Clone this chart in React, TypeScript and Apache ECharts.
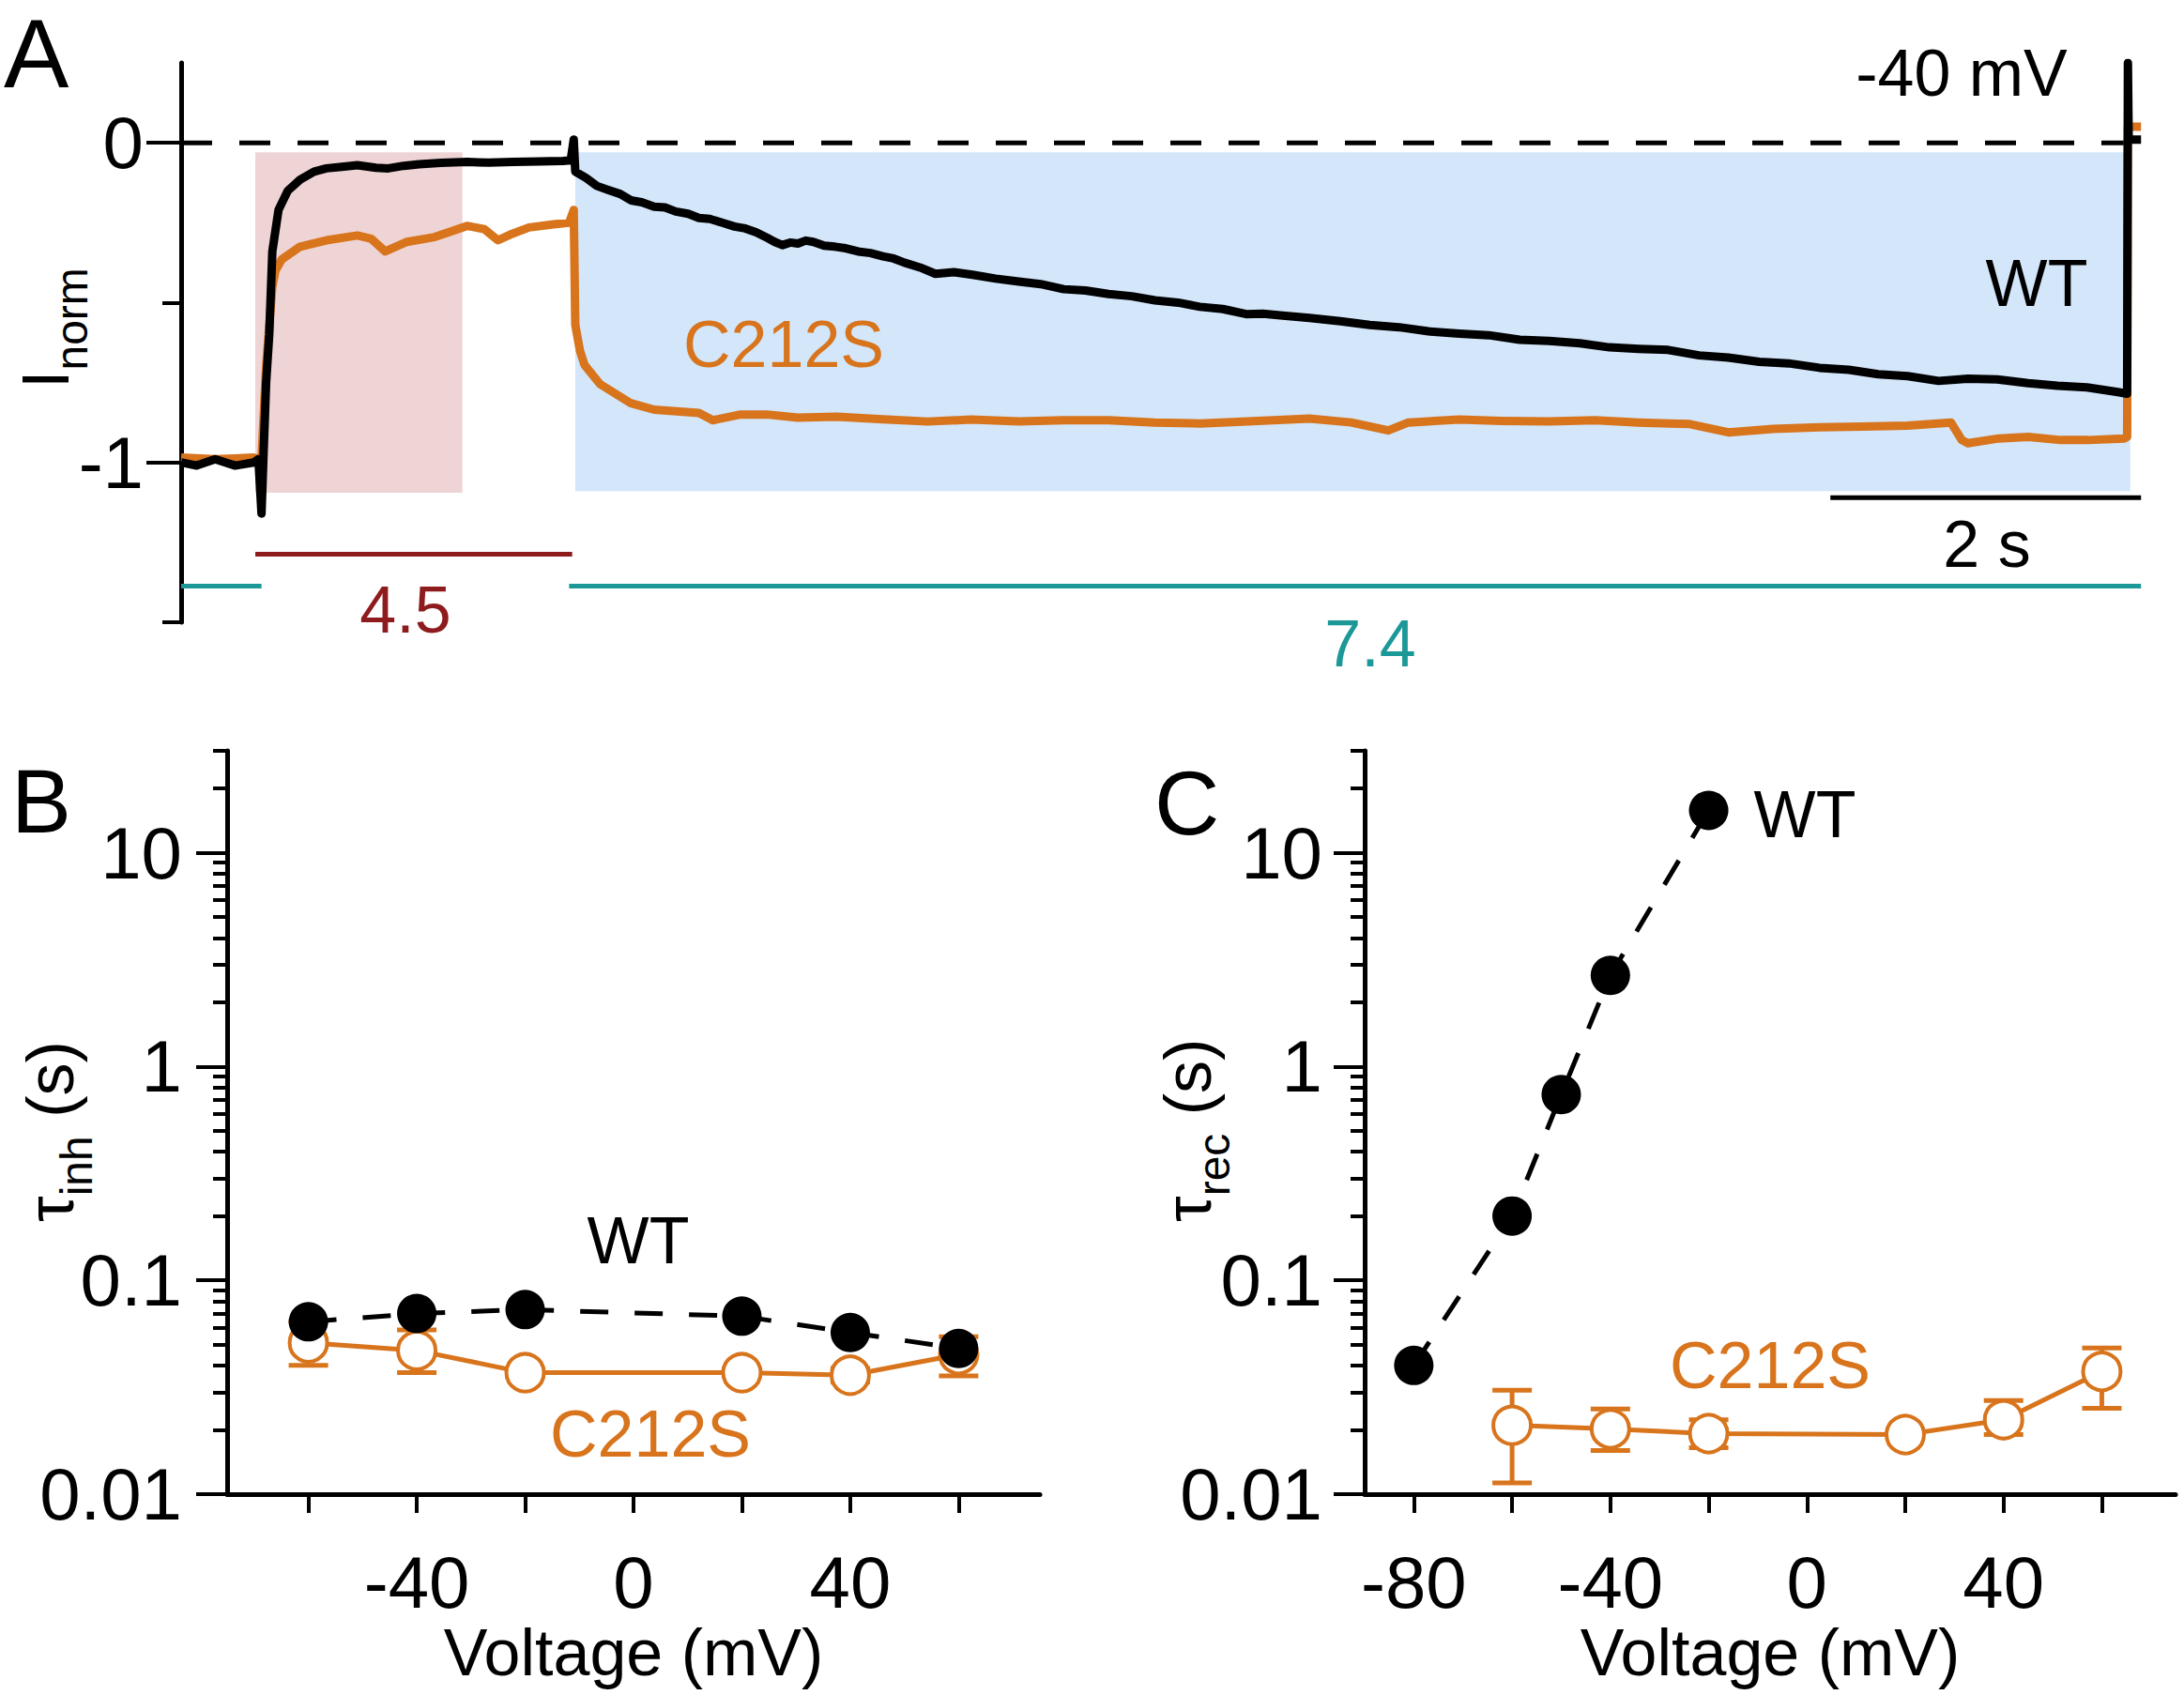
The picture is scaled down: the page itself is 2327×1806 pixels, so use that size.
import React, { useEffect, useRef } from 'react';
import * as echarts from 'echarts';

const FONT = '"Liberation Sans", Arial, Helvetica, sans-serif';
const ORANGE = '#D8741C';
const BLACK = '#000000';
const PINK = '#EFD4D6';
const BLUE = '#D3E6FA';
const TEAL = '#1D9898';
const DARKRED = '#8E1B1E';

// ---------- Panel A: normalized current traces (time in s) ----------
const wtTime = [0, 0.1, 0.22, 0.35, 0.47, 0.5, 0.52, 0.535, 0.55, 0.57, 0.59, 0.63, 0.69, 0.77, 0.86, 0.94, 1.04, 1.14, 1.26, 1.34, 1.44, 1.54, 1.68, 1.85, 1.99, 2.15, 2.32, 2.47, 2.52, 2.54, 2.55, 2.62, 2.69, 2.76, 2.84, 2.91, 2.98, 3.06, 3.13, 3.2, 3.28, 3.35, 3.42, 3.5, 3.58, 3.65, 3.72, 3.79, 3.84, 3.89, 3.94, 3.99, 4.04, 4.09, 4.16, 4.23, 4.3, 4.38, 4.46, 4.54, 4.61, 4.68, 4.78, 4.88, 5.0, 5.12, 5.27, 5.42, 5.56, 5.71, 5.85, 6.0, 6.15, 6.3, 6.45, 6.59, 6.74, 6.89, 7.0, 7.11, 7.3, 7.5, 7.69, 7.88, 8.07, 8.27, 8.46, 8.66, 8.85, 9.05, 9.24, 9.43, 9.62, 9.82, 10.01, 10.21, 10.4, 10.6, 10.79, 10.98, 11.17, 11.37, 11.56, 11.75, 11.95, 12.14, 12.33, 12.53, 12.59, 12.595, 12.6, 12.68];
const wtCurrent = [-1.0, -1.01, -0.99, -1.01, -1.0, -0.99, -1.16, -0.95, -0.75, -0.6, -0.34, -0.21, -0.15, -0.115, -0.09, -0.08, -0.075, -0.07, -0.078, -0.08, -0.072, -0.067, -0.063, -0.06, -0.062, -0.06, -0.058, -0.057, -0.055, 0.01, -0.09, -0.11, -0.135, -0.147, -0.16, -0.18, -0.186, -0.2, -0.202, -0.215, -0.222, -0.235, -0.238, -0.25, -0.262, -0.268, -0.28, -0.297, -0.31, -0.32, -0.312, -0.315, -0.306, -0.31, -0.322, -0.325, -0.33, -0.34, -0.345, -0.355, -0.362, -0.375, -0.39, -0.41, -0.405, -0.413, -0.425, -0.434, -0.442, -0.458, -0.462, -0.473, -0.48, -0.493, -0.5, -0.513, -0.52, -0.536, -0.535, -0.54, -0.548, -0.558, -0.57, -0.577, -0.59, -0.597, -0.602, -0.616, -0.62, -0.627, -0.64, -0.645, -0.648, -0.665, -0.672, -0.685, -0.69, -0.704, -0.71, -0.724, -0.73, -0.745, -0.738, -0.74, -0.752, -0.76, -0.765, -0.78, -0.785, 0.25, 0.01, 0.01];

const mutTime = [0, 0.22, 0.47, 0.52, 0.55, 0.59, 0.61, 0.65, 0.77, 0.94, 1.14, 1.23, 1.32, 1.46, 1.64, 1.85, 1.96, 2.05, 2.14, 2.25, 2.41, 2.51, 2.54, 2.55, 2.58, 2.61, 2.71, 2.91, 3.06, 3.35, 3.44, 3.62, 3.79, 3.99, 4.24, 4.54, 4.83, 5.11, 5.42, 5.71, 6.0, 6.3, 6.59, 6.9, 7.3, 7.57, 7.81, 7.94, 8.27, 8.54, 8.85, 9.15, 9.43, 9.76, 10.01, 10.3, 10.6, 10.88, 11.17, 11.45, 11.52, 11.56, 11.76, 11.95, 12.16, 12.34, 12.57, 12.59, 12.595, 12.68];
const mutCurrent = [-0.985, -0.99, -0.985, -0.99, -0.7, -0.45, -0.4, -0.365, -0.325, -0.305, -0.29, -0.3, -0.34, -0.31, -0.295, -0.26, -0.27, -0.305, -0.285, -0.265, -0.255, -0.25, -0.21, -0.57, -0.65, -0.695, -0.755, -0.815, -0.835, -0.845, -0.868, -0.85, -0.85, -0.86, -0.857, -0.865, -0.872, -0.866, -0.872, -0.868, -0.868, -0.875, -0.878, -0.872, -0.863, -0.875, -0.9, -0.875, -0.866, -0.87, -0.872, -0.868, -0.875, -0.88, -0.906, -0.895, -0.89, -0.888, -0.885, -0.875, -0.93, -0.94, -0.925, -0.92, -0.93, -0.93, -0.925, -0.92, 0.05, 0.05];

// solution-exchange boxes (pH 4.5 and pH 7.4)
const boxStart = [0.48, 2.55];
const boxEnd = [1.82, 12.61];
const boxTop = [-0.03, -0.03];
const boxBottom = [-1.095, -1.09];
const boxColors = [PINK, BLUE];

const zeroLineTime = [0, 12.6];
const scaleBarTime = [10.67, 12.68];
const scaleBarLevel = -1.11;
const acidBarTime = [0.48, 2.53];
const acidBarLevel = -1.287;
const neutralBar1Time = [0, 0.52];
const neutralBar2Time = [2.51, 12.68];
const neutralBarLevel = -1.387;

const aMajorTicks = [0, -1];
const aMinorTicks = [-0.5, -1.5];

// ---------- Panel B: tau inhibition ----------
const voltB = [-60, -40, -20, 20, 40, 60];
const wtTauInh = [0.064, 0.07, 0.073, 0.068, 0.057, 0.048];
const mutTauInh = [0.051, 0.047, 0.037, 0.037, 0.036, 0.045];
const mutTauInhLow = [0.04, 0.037, 0.0355, 0.0358, 0.0335, 0.0357];
const mutTauInhHigh = [0.064, 0.0586, 0.0385, 0.0383, 0.0388, 0.0545];
const bXTicks = [-60, -40, -20, 0, 20, 40, 60];
const bXLabels = [-40, 0, 40];

// ---------- Panel C: tau recovery ----------
const voltCWt = [-80, -60, -50, -40, -20];
const wtTauRec = [0.04, 0.2, 0.74, 2.67, 15.8];
const voltCMut = [-60, -40, -20, 20, 40, 60];
const mutTauRec = [0.021, 0.0202, 0.0192, 0.019, 0.0223, 0.0375];
const mutTauRecLow = [0.0113, 0.016, 0.0165, 0.0182, 0.019, 0.0252];
const mutTauRecHigh = [0.0306, 0.025, 0.0223, 0.0198, 0.0274, 0.0483];
const cXTicks = [-80, -60, -40, -20, 0, 20, 40, 60];
const cXLabels = [-80, -40, 0, 40];

const logMajor = [0.01, 0.1, 1, 10];
const logMinor = [0.02, 0.03, 0.04, 0.05, 0.06, 0.07, 0.08, 0.09, 0.2, 0.3, 0.4, 0.5, 0.6, 0.7, 0.8, 0.9, 2, 3, 4, 5, 6, 7, 8, 9, 20, 30];

const zip = (a: number[], b: number[]) => a.map((v, i) => [v, b[i]]);

const errorBarSeries = (xIdx: number, yIdx: number, xs: number[], lo: number[], hi: number[]) => ({
  type: 'custom',
  xAxisIndex: xIdx,
  yAxisIndex: yIdx,
  z: 2,
  encode: { x: 0, y: [1, 2] },
  data: xs.map((x, i) => [x, lo[i], hi[i]]),
  renderItem: (params: any, api: any) => {
    const x = api.value(0);
    const pLo = api.coord([x, api.value(1)]);
    const pHi = api.coord([x, api.value(2)]);
    const w = 21;
    const style = { stroke: ORANGE, lineWidth: 5, fill: 'none' };
    return {
      type: 'group',
      children: [
        { type: 'line', shape: { x1: pLo[0], y1: pLo[1], x2: pHi[0], y2: pHi[1] }, style },
        { type: 'line', shape: { x1: pLo[0] - w, y1: pLo[1], x2: pLo[0] + w, y2: pLo[1] }, style },
        { type: 'line', shape: { x1: pHi[0] - w, y1: pHi[1], x2: pHi[0] + w, y2: pHi[1] }, style },
      ],
    };
  },
});

const TICK_FS = 78;
const tickFont = { fontSize: TICK_FS, fontFamily: FONT, color: BLACK };

const logFmt = (v: any) => String(parseFloat(Number(v).toPrecision(2)));

const logYAxes = (grid: number, margin: number) => [
  {
    type: 'log',
    logBase: 10,
    gridIndex: grid,
    position: 'left',
    min: 0.01,
    max: 30,
    axisLine: { show: true, onZero: false, lineStyle: { color: BLACK, width: 5 } },
    axisTick: { show: true, inside: false, length: 33, customValues: logMajor, lineStyle: { color: BLACK, width: 4 } },
    axisLabel: { show: true, margin, customValues: logMajor, formatter: logFmt, ...tickFont },
    splitLine: { show: false },
    minorTick: { show: false },
  },
  {
    type: 'log',
    logBase: 10,
    gridIndex: grid,
    position: 'left',
    min: 0.01,
    max: 30,
    axisLine: { show: false, onZero: false },
    axisTick: { show: true, inside: false, length: 15, customValues: logMinor, lineStyle: { color: BLACK, width: 4 } },
    axisLabel: { show: false },
    splitLine: { show: false },
  },
];

const voltXAxis = (grid: number, min: number, max: number, ticks: number[], labels: number[]) => ({
  type: 'value',
  gridIndex: grid,
  min,
  max,
  position: 'bottom',
  name: 'Voltage (mV)',
  nameLocation: 'middle',
  nameGap: 128,
  nameTextStyle: { fontSize: 70, fontFamily: FONT, color: BLACK },
  axisLine: { show: true, onZero: false, lineStyle: { color: BLACK, width: 5 } },
  axisTick: { show: true, inside: false, length: 20, customValues: ticks, lineStyle: { color: BLACK, width: 4 } },
  axisLabel: { show: true, margin: 55, customValues: labels, formatter: (v: any) => String(v), ...tickFont },
  splitLine: { show: false },
});

const textEl = (text: string, x: number, y: number, color: string, size = 70, align = 'center') => ({
  type: 'text',
  x,
  y,
  z: 100,
  style: {
    text,
    fill: color,
    fontSize: size,
    fontFamily: FONT,
    align,
    textAlign: align,
    verticalAlign: 'middle',
    textVerticalAlign: 'middle',
  },
});

// rotated axis title (reads bottom to top), pieces with baseline offsets for subscripts
const measure = (text: string, size: number) => {
  const ctx = document.createElement('canvas').getContext('2d');
  if (!ctx) return text.length * size * 0.55;
  ctx.font = `${size}px ${FONT}`;
  return ctx.measureText(text).width;
};

const rotatedTitle = (pieces: { text: string; size: number; dy: number }[], baseX: number, startY: number) => {
  let offset = 0;
  const children = pieces.map((p) => {
    const el = {
      type: 'text',
      x: offset,
      y: p.dy - 0.3465 * p.size,
      style: {
        text: p.text,
        fill: BLACK,
        fontSize: p.size,
        fontFamily: FONT,
        align: 'left',
        textAlign: 'left',
        verticalAlign: 'middle',
        textVerticalAlign: 'middle',
      },
    };
    offset += measure(p.text, p.size);
    return el;
  });
  return { type: 'group', x: baseX, y: startY, rotation: Math.PI / 2, z: 100, children };
};

const lineSeg = (xs: number[], level: number, color: string, width: number) => ({
  type: 'line',
  xAxisIndex: 0,
  yAxisIndex: 0,
  data: xs.map((t) => [t, level]),
  symbol: 'none',
  silent: true,
  z: 5,
  lineStyle: { color, width, cap: 'butt' },
});

const buildOption = (): any => ({
  animation: false,
  backgroundColor: '#ffffff',
  grid: [
    { left: 193, top: 67, width: 2108, height: 596 },
    { left: 242, top: 800, width: 866, height: 792 },
    { left: 1454, top: 800, width: 864, height: 792 },
  ],
  xAxis: [
    { type: 'value', gridIndex: 0, min: 0, max: 12.8, show: false },
    voltXAxis(1, -75, 75, bXTicks, bXLabels),
    voltXAxis(2, -90, 75, cXTicks, cXLabels),
  ],
  yAxis: [
    {
      type: 'value',
      gridIndex: 0,
      position: 'left',
      min: -1.5,
      max: 0.25,
      axisLine: { show: true, onZero: false, lineStyle: { color: BLACK, width: 5 } },
      axisTick: { show: true, inside: false, length: 37, customValues: aMajorTicks, lineStyle: { color: BLACK, width: 4 } },
      axisLabel: { show: true, margin: 40, customValues: aMajorTicks, formatter: (v: any) => String(v), ...tickFont },
      splitLine: { show: false },
    },
    {
      type: 'value',
      gridIndex: 0,
      position: 'left',
      min: -1.5,
      max: 0.25,
      axisLine: { show: false, onZero: false },
      axisTick: { show: true, inside: false, length: 20, customValues: aMinorTicks, lineStyle: { color: BLACK, width: 4 } },
      axisLabel: { show: false },
      splitLine: { show: false },
    },
    ...logYAxes(1, 48),
    ...logYAxes(2, 45),
  ],
  series: [
    {
      type: 'custom',
      xAxisIndex: 0,
      yAxisIndex: 0,
      z: 0,
      silent: true,
      encode: { x: [0, 1], y: [2, 3] },
      data: boxStart.map((s, i) => [s, boxEnd[i], boxTop[i], boxBottom[i], i]),
      renderItem: (params: any, api: any) => {
        const p0 = api.coord([api.value(0), api.value(2)]);
        const p1 = api.coord([api.value(1), api.value(3)]);
        return {
          type: 'rect',
          shape: { x: p0[0], y: p0[1], width: p1[0] - p0[0], height: p1[1] - p0[1] },
          style: { fill: boxColors[api.value(4)] },
        };
      },
    },
    {
      type: 'line',
      xAxisIndex: 0,
      yAxisIndex: 0,
      data: zeroLineTime.map((t) => [t, 0]),
      symbol: 'none',
      silent: true,
      z: 2,
      lineStyle: { color: BLACK, width: 5, type: [33, 29], cap: 'butt' },
    },
    {
      type: 'line',
      name: 'C212S',
      xAxisIndex: 0,
      yAxisIndex: 0,
      data: zip(mutTime, mutCurrent),
      symbol: 'none',
      z: 3,
      lineStyle: { color: ORANGE, width: 9, join: 'round' },
    },
    {
      type: 'line',
      name: 'WT',
      xAxisIndex: 0,
      yAxisIndex: 0,
      data: zip(wtTime, wtCurrent),
      symbol: 'none',
      z: 4,
      lineStyle: { color: BLACK, width: 9, join: 'round' },
    },
    lineSeg(scaleBarTime, scaleBarLevel, BLACK, 5),
    lineSeg(acidBarTime, acidBarLevel, DARKRED, 5),
    lineSeg(neutralBar1Time, neutralBarLevel, TEAL, 5),
    lineSeg(neutralBar2Time, neutralBarLevel, TEAL, 5),

    // Panel B
    errorBarSeries(1, 2, voltB, mutTauInhLow, mutTauInhHigh),
    {
      type: 'line',
      name: 'C212S inh',
      xAxisIndex: 1,
      yAxisIndex: 2,
      data: zip(voltB, mutTauInh),
      symbol: 'circle',
      symbolSize: 40,
      z: 3,
      lineStyle: { color: ORANGE, width: 5 },
      itemStyle: { color: '#ffffff', borderColor: ORANGE, borderWidth: 4 },
    },
    {
      type: 'line',
      name: 'WT inh',
      xAxisIndex: 1,
      yAxisIndex: 2,
      data: zip(voltB, wtTauInh),
      symbol: 'circle',
      symbolSize: 42,
      z: 4,
      lineStyle: { color: BLACK, width: 5, type: [30, 28] },
      itemStyle: { color: BLACK },
    },

    // Panel C
    errorBarSeries(2, 4, voltCMut, mutTauRecLow, mutTauRecHigh),
    {
      type: 'line',
      name: 'C212S rec',
      xAxisIndex: 2,
      yAxisIndex: 4,
      data: zip(voltCMut, mutTauRec),
      symbol: 'circle',
      symbolSize: 40,
      z: 3,
      lineStyle: { color: ORANGE, width: 5 },
      itemStyle: { color: '#ffffff', borderColor: ORANGE, borderWidth: 4 },
    },
    {
      type: 'line',
      name: 'WT rec',
      xAxisIndex: 2,
      yAxisIndex: 4,
      data: zip(voltCWt, wtTauRec),
      symbol: 'circle',
      symbolSize: 42,
      z: 4,
      lineStyle: { color: BLACK, width: 5, type: [30, 28] },
      itemStyle: { color: BLACK },
    },
  ],
  graphic: [
    textEl('A', 4, 57, BLACK, 104, 'left'),
    textEl('B', 12, 853, BLACK, 96, 'left'),
    textEl('C', 1230, 855, BLACK, 96, 'left'),
    textEl('-40 mV', 2090, 78, BLACK),
    textEl('WT', 2170, 302, BLACK),
    textEl('C212S', 835, 367, ORANGE),
    textEl('2 s', 2117, 580, BLACK),
    textEl('4.5', 432, 650, DARKRED),
    textEl('7.4', 1460, 686, TEAL),
    textEl('WT', 680, 1322, BLACK),
    textEl('C212S', 693, 1528, ORANGE),
    textEl('WT', 1923, 868, BLACK),
    textEl('C212S', 1886, 1455, ORANGE),
    rotatedTitle([{ text: 'I', size: 70, dy: 0 }, { text: 'norm', size: 48, dy: 20 }], 73, 414),
    rotatedTitle([{ text: 'τ', size: 70, dy: 0 }, { text: 'inh', size: 48, dy: 20 }, { text: ' (s)', size: 70, dy: 0 }], 78, 1302),
    rotatedTitle([{ text: 'τ', size: 70, dy: 0 }, { text: 'rec', size: 48, dy: 20 }, { text: ' (s)', size: 70, dy: 0 }], 1290, 1302),
  ],
});

export default function App() {
  const ref = useRef<HTMLDivElement>(null);
  useEffect(() => {
    document.body.style.margin = '0';
    const chart = echarts.init(ref.current as HTMLDivElement, null, { renderer: 'svg' });
    chart.setOption(buildOption());
    return () => chart.dispose();
  }, []);
  return (
    <div
      ref={ref}
      style={{ position: 'absolute', left: 0, top: 0, width: 2327, height: 1806, background: '#ffffff' }}
    />
  );
}
